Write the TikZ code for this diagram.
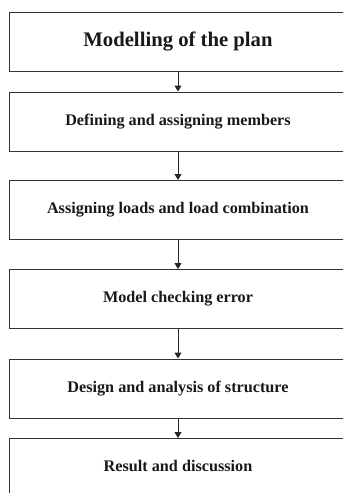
\documentclass[tikz,border=0pt]{standalone}
\usepackage{fontspec}
\setmainfont{Liberation Serif}
\usetikzlibrary{arrows.meta}
\begin{document}
\begin{tikzpicture}[x=1pt,y=-1pt,
  stagebox/.style={draw=black!80, line width=1pt, minimum width=338pt, minimum height=59pt, inner sep=0pt, font=\bfseries\fontsize{16.2}{18}\selectfont, text=black!90},
  flowarrow/.style={draw=black!85, line width=1pt, -{Triangle[length=6pt,width=7pt]}}]
\clip (0,0) rectangle (343,493);
\fill[white] (0,0) rectangle (343,493);
\node[stagebox, font=\bfseries\fontsize{20.7}{24}\selectfont] (b1) at (178,41.5) {Modelling of the plan};
\node[stagebox] (b2) at (178,121.5) {Defining and assigning members};
\node[stagebox] (b3) at (178,210) {Assigning loads and load combination};
\node[stagebox] (b4) at (178,299) {Model checking error};
\node[stagebox] (b5) at (178,388.5) {Design and analysis of structure};
\node[stagebox, minimum height=60pt, anchor=north] (b6) at (178,438) {};
\node[font=\bfseries\fontsize{16.2}{18}\selectfont, text=black!90] (t6) at (178,466) {Result and discussion};
\draw[flowarrow] (b1.south) -- (b2.north);
\draw[flowarrow] (b2.south) -- (b3.north);
\draw[flowarrow] (b3.south) -- (b4.north);
\draw[flowarrow] (b4.south) -- (b5.north);
\draw[flowarrow] (b5.south) -- (b6.north);
\end{tikzpicture}
\end{document}
